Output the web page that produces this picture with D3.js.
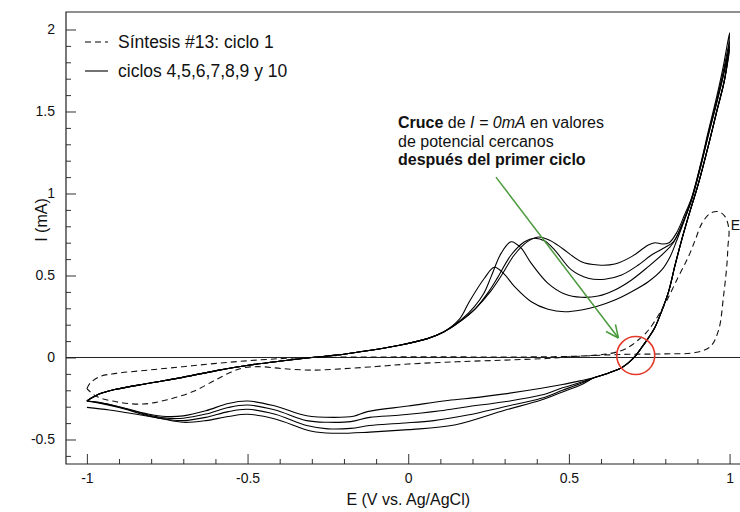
<!DOCTYPE html>
<html>
<head>
<meta charset="utf-8">
<script src="https://cdn.jsdelivr.net/npm/d3@7"></script>
<style>
  body { margin: 0; background: #fff; }
  svg { display: block; font-family: "Liberation Sans", Arial, Helvetica, sans-serif; }
</style>
</head>
<body>
<svg id="chart" width="740" height="512"></svg>
<script>
// ---- data: [E (V), I (mA)] ----

// forward sweep shared by all later cycles, -1 V up to about 0.1 V
var forwardBase = [[-1,-0.265],[-0.962,-0.223],[-0.91,-0.194],[-0.806,-0.157],[-0.702,-0.121],
  [-0.597,-0.08],[-0.493,-0.046],[-0.389,-0.02],[-0.3,0.0],[-0.2,0.02],[-0.127,0.041],
  [-0.023,0.076],[0.06,0.115],[0.11,0.155]];

// forward sweep, per cycle, from the oxidation peak to the vertex
var forwardA = [[0.16,0.235],[0.19,0.34],[0.237,0.483],[0.268,0.55],[0.298,0.51],[0.331,0.432],
  [0.383,0.34],[0.435,0.294],[0.487,0.279],[0.539,0.29],[0.591,0.314],[0.643,0.35],[0.695,0.401],
  [0.747,0.462],[0.789,0.534],[0.815,0.615],[0.835,0.71],[0.86,0.84],[0.882,0.96],[0.91,1.16],
  [0.934,1.355],[0.96,1.55],[0.98,1.71],[1.0,1.88]];
var forwardB = [[0.165,0.23],[0.206,0.31],[0.235,0.39],[0.258,0.493],[0.289,0.635],[0.32,0.706],
  [0.35,0.67],[0.383,0.574],[0.435,0.452],[0.487,0.387],[0.539,0.367],[0.591,0.375],[0.643,0.412],
  [0.695,0.473],[0.747,0.554],[0.8,0.645],[0.825,0.7],[0.85,0.8],[0.882,0.965],[0.91,1.17],
  [0.934,1.36],[0.96,1.56],[0.98,1.72],[1.0,1.9]];
var forwardC = [[0.165,0.225],[0.21,0.3],[0.25,0.4],[0.279,0.49],[0.32,0.625],[0.362,0.706],
  [0.393,0.727],[0.425,0.71],[0.456,0.655],[0.508,0.534],[0.56,0.483],[0.612,0.477],[0.664,0.503],
  [0.716,0.564],[0.757,0.625],[0.8,0.672],[0.825,0.705],[0.85,0.8],[0.882,0.97],[0.91,1.175],
  [0.934,1.37],[0.96,1.57],[0.98,1.74],[1.0,1.93]];
var forwardD = [[0.165,0.225],[0.21,0.3],[0.255,0.4],[0.29,0.5],[0.33,0.625],[0.37,0.705],
  [0.405,0.735],[0.44,0.715],[0.48,0.665],[0.539,0.584],[0.591,0.564],[0.643,0.57],[0.695,0.615],
  [0.747,0.686],[0.768,0.7],[0.79,0.692],[0.812,0.7],[0.835,0.76],[0.86,0.87],[0.882,0.975],
  [0.91,1.18],[0.934,1.38],[0.96,1.59],[0.98,1.77],[1.0,1.98]];

// reverse sweep shared by all cycles, from the vertex down to about 0.58 V
var reverseTop = [[0.985,1.7],[0.96,1.5],[0.935,1.3],[0.903,1.06],[0.872,0.86],[0.85,0.71],
  [0.83,0.56],[0.81,0.4],[0.79,0.29],[0.768,0.185],[0.747,0.118],[0.725,0.057],[0.705,0.005],
  [0.685,-0.033],[0.664,-0.062],[0.64,-0.083],[0.62,-0.098],[0.58,-0.122]];

// reverse sweep, per cycle, back to -1 V
var reverseA = [[0.54,-0.14],[0.48,-0.165],[0.414,-0.188],[0.3,-0.222],[0.217,-0.243],[0.123,-0.262],
  [0.0,-0.296],[-0.127,-0.33],[-0.17,-0.358],[-0.23,-0.365],[-0.316,-0.355],[-0.414,-0.296],
  [-0.5,-0.265],[-0.56,-0.28],[-0.63,-0.325],[-0.7,-0.356],[-0.753,-0.36],[-0.81,-0.345],
  [-0.9,-0.3],[-0.96,-0.275],[-1.0,-0.265]];
var reverseB = [[0.54,-0.15],[0.48,-0.185],[0.414,-0.229],[0.3,-0.27],[0.185,-0.3],[0.1,-0.325],
  [-0.023,-0.351],[-0.12,-0.365],[-0.179,-0.391],[-0.25,-0.395],[-0.316,-0.385],[-0.414,-0.32],
  [-0.5,-0.29],[-0.56,-0.305],[-0.63,-0.345],[-0.7,-0.37],[-0.76,-0.368],[-0.81,-0.35],
  [-0.9,-0.302],[-0.96,-0.275],[-1.0,-0.265]];
var reverseC = [[0.54,-0.155],[0.48,-0.2],[0.414,-0.249],[0.3,-0.3],[0.185,-0.351],[0.08,-0.385],
  [-0.023,-0.401],[-0.12,-0.415],[-0.179,-0.432],[-0.25,-0.435],[-0.316,-0.415],[-0.414,-0.346],
  [-0.5,-0.316],[-0.56,-0.33],[-0.63,-0.365],[-0.7,-0.385],[-0.76,-0.375],[-0.81,-0.355],
  [-0.9,-0.305],[-0.96,-0.278],[-1.0,-0.265]];
var reverseD = [[0.54,-0.165],[0.48,-0.21],[0.414,-0.259],[0.3,-0.322],[0.144,-0.412],[0.0,-0.44],
  [-0.12,-0.455],[-0.231,-0.462],[-0.3,-0.45],[-0.414,-0.375],[-0.5,-0.346],[-0.56,-0.36],
  [-0.63,-0.385],[-0.7,-0.395],[-0.77,-0.372],[-0.85,-0.345],[-0.93,-0.32],[-1.0,-0.304]];

// first cycle (dashed)
var cycle1Forward = [[-1.0,-0.19],[-0.99,-0.157],[-0.961,-0.117],[-0.909,-0.097],[-0.805,-0.076],
  [-0.701,-0.056],[-0.597,-0.036],[-0.493,-0.019],[-0.389,-0.006],[-0.3,0.0],[-0.1,0.003],
  [0.1,0.004],[0.3,0.003],[0.45,0.005],[0.55,0.01],[0.62,0.022],[0.66,0.04],[0.69,0.068],
  [0.715,0.105],[0.74,0.15],[0.76,0.2],[0.8,0.33],[0.84,0.49],[0.872,0.615],[0.893,0.716],
  [0.914,0.818],[0.94,0.879],[0.966,0.889],[0.986,0.859],[0.998,0.78]];
var cycle1Reverse = [[0.995,0.68],[0.992,0.574],[0.981,0.371],[0.966,0.168],[0.94,0.066],
  [0.893,0.03],[0.8,0.022],[0.7,0.02],[0.6,0.014],[0.5,0.004],[0.43,-0.006],[0.3,-0.016],
  [0.15,-0.026],[0.0,-0.04],[-0.1,-0.055],[-0.2,-0.068],[-0.3,-0.077],[-0.39,-0.068],
  [-0.46,-0.056],[-0.51,-0.062],[-0.55,-0.088],[-0.6,-0.137],[-0.67,-0.208],[-0.753,-0.259],
  [-0.826,-0.284],[-0.909,-0.27],[-0.972,-0.235],[-1.0,-0.19]];

var xMajorTicks = [-1, -0.5, 0, 0.5, 1];
var yMajorTicks = [-0.5, 0, 0.5, 1, 1.5, 2];
var legendLabels = ["Síntesis #13: ciclo 1", "ciclos 4,5,6,7,8,9 y 10"];
var xTitle = "E (V vs. Ag/AgCl)", yTitle = "I (mA)";

// ---- drawing ----
var svg = d3.select("#chart");
var m = { left: 66, top: 12, right: 760, bottom: 464 };

var x = d3.scaleLinear().domain([-1.065, 1.0947]).range([m.left, m.right]);
var y = d3.scaleLinear().domain([-0.6494, 2.1067]).range([m.bottom, m.top]);

var xMinor = d3.range(-10, 11).map(function(d) { return d / 10; })
  .filter(function(d) { return xMajorTicks.indexOf(d) < 0; });
var yMinor = d3.range(-6, 21).map(function(d) { return d / 10; })
  .filter(function(d) { return yMajorTicks.indexOf(d) < 0; });

var fmt = function(d) { return String(d); };

// axes, ticks pointing inside
var gx = svg.append("g").attr("transform", "translate(0," + m.bottom + ")");
gx.call(d3.axisBottom(x).tickValues(xMajorTicks).tickSize(-10).tickSizeOuter(0)
  .tickPadding(9).tickFormat(fmt));
gx.append("g").call(d3.axisBottom(x).tickValues(xMinor).tickSize(-5).tickSizeOuter(0).tickFormat(""));

var gy = svg.append("g").attr("transform", "translate(" + m.left + ",0)");
gy.call(d3.axisLeft(y).tickValues(yMajorTicks).tickSize(-10).tickSizeOuter(0)
  .tickPadding(11).tickFormat(fmt));
gy.append("g").call(d3.axisLeft(y).tickValues(yMinor).tickSize(-5).tickSizeOuter(0).tickFormat(""));

svg.selectAll(".domain").remove();
svg.selectAll(".tick line").attr("stroke", "#333");
svg.selectAll(".tick text").attr("font-size", 14).attr("fill", "#111")
  .attr("font-family", "'Liberation Sans', Arial, sans-serif");

// frame
svg.append("path")
  .attr("d", "M" + m.right + "," + m.top + "H" + m.left + "V" + m.bottom + "H" + m.right)
  .attr("fill", "none").attr("stroke", "#222").attr("stroke-width", 1.2);

// zero line
svg.append("line")
  .attr("x1", m.left).attr("x2", m.right).attr("y1", y(0)).attr("y2", y(0))
  .attr("stroke", "#222").attr("stroke-width", 1);

var line = d3.line()
  .x(function(d) { return x(d[0]); })
  .y(function(d) { return y(d[1]); })
  .curve(d3.curveCatmullRom.alpha(0.5));

var laterCycles = [
  forwardBase.concat(forwardA, reverseTop, reverseA),
  forwardBase.concat(forwardB, reverseTop, reverseB),
  forwardBase.concat(forwardC, reverseTop, reverseC),
  forwardBase.concat(forwardD, reverseTop, reverseD)
];

svg.append("g").selectAll("path")
  .data(laterCycles)
  .enter().append("path")
    .attr("d", line)
    .attr("fill", "none")
    .attr("stroke", "#000")
    .attr("stroke-width", 1.1);

svg.append("path")
  .attr("d", line(cycle1Forward.concat(cycle1Reverse)))
  .attr("fill", "none")
  .attr("stroke", "#111")
  .attr("stroke-width", 1.1)
  .attr("stroke-dasharray", "6,4");

// cut-off label at the right of the first cycle
svg.append("text").attr("x", x(1.004)).attr("y", y(0.78))
  .attr("font-size", 14).attr("fill", "#111").text("E");

// legend
var legend = svg.append("g");
var legendRows = [{ y: 42, dash: "6,4", text: legendLabels[0] }, { y: 71, dash: null, text: legendLabels[1] }];
legendRows.forEach(function(r) {
  legend.append("line").attr("x1", 85).attr("x2", 108).attr("y1", r.y).attr("y2", r.y)
    .attr("stroke", "#000").attr("stroke-width", 1.1)
    .attr("stroke-dasharray", r.dash);
  legend.append("text").attr("x", 118).attr("y", r.y + 6)
    .attr("font-size", 17.5).attr("fill", "#111").text(r.text);
});

// axis titles
svg.append("text").attr("x", x(0)).attr("y", 505).attr("text-anchor", "middle")
  .attr("font-size", 16).attr("fill", "#111").text(xTitle);
svg.append("text").attr("transform", "translate(47,220) rotate(-90)").attr("text-anchor", "middle")
  .attr("font-size", 16).attr("fill", "#111").text(yTitle);

// annotation
var note = svg.append("text").attr("x", 398).attr("y", 128).attr("font-size", 16).attr("fill", "#111");
note.append("tspan").attr("font-weight", "bold").text("Cruce");
note.append("tspan").text(" de ");
note.append("tspan").attr("font-style", "italic").text("I = 0mA");
note.append("tspan").text(" en valores");
svg.append("text").attr("x", 398).attr("y", 146.5).attr("font-size", 16).attr("fill", "#111")
  .text("de potencial cercanos");
svg.append("text").attr("x", 398).attr("y", 165).attr("font-size", 16).attr("fill", "#111")
  .attr("font-weight", "bold").text("después del primer ciclo");

// arrow toward the crossing
var green = "#4a9a3c";
var a0 = [x(0.273), y(1.1)], a1 = [x(0.654), y(0.119)];
svg.append("line").attr("x1", a0[0]).attr("y1", a0[1]).attr("x2", a1[0]).attr("y2", a1[1])
  .attr("stroke", green).attr("stroke-width", 1.5);
var ang = Math.atan2(a1[1] - a0[1], a1[0] - a0[0]) + Math.PI;
[-0.44, 0.44].forEach(function(da) {
  svg.append("line").attr("x1", a1[0]).attr("y1", a1[1])
    .attr("x2", a1[0] + 14 * Math.cos(ang + da)).attr("y2", a1[1] + 14 * Math.sin(ang + da))
    .attr("stroke", green).attr("stroke-width", 1.5);
});

// red circle at the crossing
svg.append("circle").attr("cx", x(0.708)).attr("cy", y(0.012)).attr("r", 19)
  .attr("fill", "none").attr("stroke", "#e4382a").attr("stroke-width", 1.6);
</script>
</body>
</html>
